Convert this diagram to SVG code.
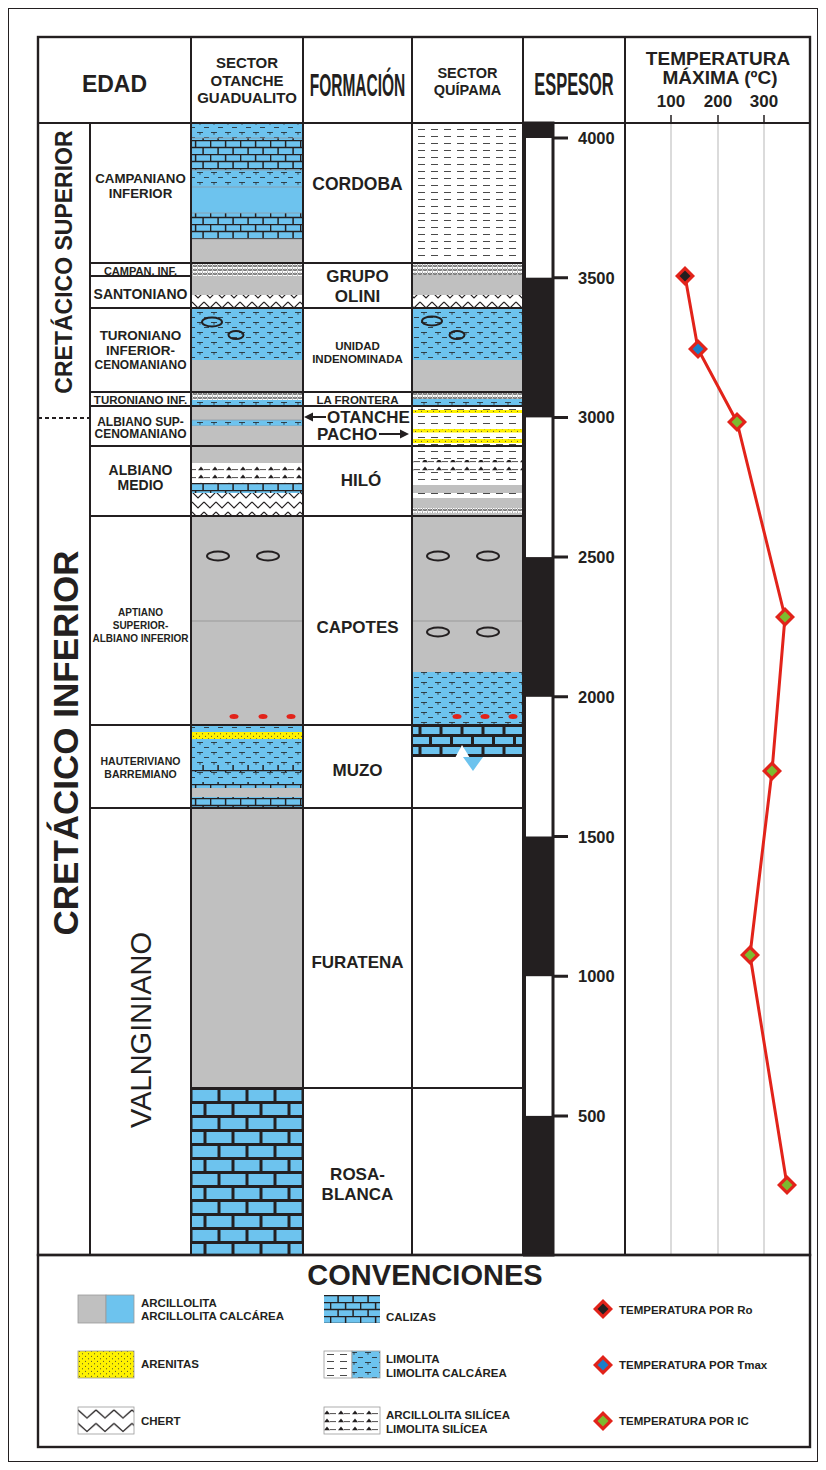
<svg xmlns="http://www.w3.org/2000/svg" width="826" height="1470" viewBox="0 0 826 1470">
<style>
  .t{font-family:"Liberation Sans",Arial,sans-serif;font-weight:bold;fill:#231f20;text-anchor:middle}
  .st{text-anchor:start}
  .thin{font-weight:normal}
  .frame{fill:none;stroke:#231f20;stroke-width:2.4}
  .row{stroke:#231f20;stroke-width:2;fill:none}
  .grid{stroke:#c4c4c4;stroke-width:1.2}
  .tick{stroke:#231f20;stroke-width:3}
  .gris{fill:#c0c0c0}
  .azul{fill:#6dc3ee}
  .cal{fill:url(#lime)}
  .calG{fill:url(#limeBig)}
  .calM{fill:url(#limeMed)}
  .cl{fill:url(#limCal)}
  .lim{fill:url(#limo)}
  .che{fill:url(#chert)}
  .cheL{fill:url(#chertLarge)}
  .fch{fill:url(#fineChert)}
  .sil{fill:url(#silicea)}
  .are{fill:url(#arena)}
  .nod{fill:none;stroke:#231f20;stroke-width:2}
  .dot{fill:#e2231a}
  .sub{stroke:#8f9aa3;stroke-width:0.8}
  .sw{stroke:#9a9a9a;stroke-width:0.8}
  .curve{fill:none;stroke:#e2231a;stroke-width:3;stroke-linejoin:round}
</style>
<defs>
  <!-- caliza: small bricks -->
  <pattern id="lime" patternUnits="userSpaceOnUse" width="30" height="14">
    <rect width="30" height="14" fill="#6dc3ee"/>
    <path d="M0 0.6H30M0 7.6H30M0.6 0V7M15.6 0V7M8.1 7V14M23.1 7V14" stroke="#231f20" stroke-width="1.5"/>
  </pattern>
  <!-- caliza: medium bricks -->
  <pattern id="limeMed" patternUnits="userSpaceOnUse" width="42" height="20" y="725">
    <rect width="42" height="20" fill="#231f20"/>
    <rect x="1.5" y="2" width="18" height="7" fill="#6dc3ee"/>
    <rect x="22.5" y="2" width="18" height="7" fill="#6dc3ee"/>
    <rect x="-9" y="12" width="18" height="7" fill="#6dc3ee"/>
    <rect x="12" y="12" width="18" height="7" fill="#6dc3ee"/>
    <rect x="33" y="12" width="18" height="7" fill="#6dc3ee"/>
  </pattern>
  <!-- caliza: large bricks -->
  <pattern id="limeBig" patternUnits="userSpaceOnUse" width="28" height="28" x="191" y="1088">
    <rect width="28" height="28" fill="#231f20"/>
    <rect x="1.5" y="2" width="25" height="11" fill="#6dc3ee"/>
    <rect x="-12.5" y="16" width="25" height="11" fill="#6dc3ee"/>
    <rect x="15.5" y="16" width="25" height="11" fill="#6dc3ee"/>
  </pattern>
  <!-- limolita calcárea -->
  <pattern id="limCal" patternUnits="userSpaceOnUse" width="14" height="10">
    <rect width="14" height="10" fill="#6dc3ee"/>
    <path d="M1 2.5H7M4 2.5V4.8M8 7.5H13" stroke="#231f20" stroke-width="0.8" fill="none"/>
  </pattern>
  <!-- limolita -->
  <pattern id="limo" patternUnits="userSpaceOnUse" width="13" height="7">
    <rect width="13" height="7" fill="#ffffff"/>
    <path d="M2 3.5H9" stroke="#4a4a4a" stroke-width="1"/>
  </pattern>
  <!-- chert -->
  <pattern id="chert" patternUnits="userSpaceOnUse" width="12" height="10">
    <rect width="12" height="10" fill="#ffffff"/>
    <path d="M0 2L6 8L12 2" stroke="#231f20" stroke-width="1.1" fill="none"/>
  </pattern>
  <!-- chert, legend swatch -->
  <pattern id="chertLarge" patternUnits="userSpaceOnUse" width="18" height="13.5" x="78" y="1407">
    <rect width="18" height="13.5" fill="#ffffff"/>
    <path d="M0 3L9 11L18 3" stroke="#231f20" stroke-width="1.3" fill="none"/>
  </pattern>
  <!-- chert, fine banding -->
  <pattern id="fineChert" patternUnits="userSpaceOnUse" width="5" height="4">
    <rect width="5" height="4" fill="#ffffff"/>
    <path d="M0 0.8L2.5 3L5 0.8M0 3L2.5 0.8L5 3" stroke="#333" stroke-width="0.7" fill="none"/>
  </pattern>
  <!-- arcillolita / limolita silícea -->
  <pattern id="silicea" patternUnits="userSpaceOnUse" width="14" height="8">
    <rect width="14" height="8" fill="#ffffff"/>
    <path d="M2 6.2L5 2.4L8 6.2Z" fill="#231f20"/>
    <path d="M8 5.6H14" stroke="#231f20" stroke-width="0.8"/>
  </pattern>
  <!-- arenitas -->
  <pattern id="arena" patternUnits="userSpaceOnUse" width="6" height="5">
    <rect width="6" height="5" fill="#fff200"/>
    <circle cx="1.5" cy="1.3" r="0.55" fill="#333"/>
    <circle cx="4.5" cy="3.8" r="0.55" fill="#333"/>
  </pattern>
  <!-- temperature markers -->
  <g id="diaRo"><path d="M-10 0L0-10L10 0L0 10Z" fill="#e2231a"/><path d="M-5.5 0L0-5.5L5.5 0L0 5.5Z" fill="#231f20"/></g>
  <g id="diaTmax"><path d="M-10 0L0-10L10 0L0 10Z" fill="#e2231a"/><path d="M-5.5 0L0-5.5L5.5 0L0 5.5Z" fill="#1a7fc9"/></g>
  <g id="diaIC"><path d="M-10 0L0-10L10 0L0 10Z" fill="#e2231a"/><path d="M-5.5 0L0-5.5L5.5 0L0 5.5Z" fill="#7dbb2f"/></g>
</defs>

<rect width="826" height="1470" fill="#ffffff"/>
<rect x="8.5" y="8.5" width="809" height="1453" fill="none" stroke="#231f20" stroke-width="1"/>

<!-- ===== Otanche - Guadualito column ===== -->
<g id="sector-otanche">
  <rect x="191" y="123" width="112" height="15" class="cl"/>
  <rect x="191" y="138" width="112" height="32" class="cal"/>
  <rect x="191" y="170" width="112" height="17" class="cl"/>
  <rect x="191" y="187" width="112" height="26" class="azul"/>
  <rect x="191" y="213" width="112" height="26" class="cal"/>
  <rect x="191" y="239" width="112" height="24" class="gris"/>
  <path d="M191 138H303M191 170H303M191 187H303M191 213H303M191 239H303" class="sub"/>
  <rect x="191" y="263" width="112" height="13" class="fch"/>
  <rect x="191" y="276" width="112" height="19" class="gris"/>
  <rect x="191" y="295" width="112" height="13" class="che"/>
  <rect x="191" y="308" width="112" height="52" class="cl"/>
  <ellipse cx="212" cy="322" rx="10" ry="4.5" class="nod"/>
  <ellipse cx="236" cy="335" rx="7.5" ry="4" class="nod"/>
  <rect x="191" y="360" width="112" height="32" class="gris"/>
  <rect x="191" y="392" width="112" height="8" class="fch"/>
  <rect x="191" y="400" width="112" height="6" class="cl"/>
  <rect x="191" y="406" width="112" height="14" class="gris"/>
  <rect x="191" y="420" width="112" height="6" class="cl"/>
  <path d="M191 420H303M191 426H303" class="sub"/>
  <rect x="191" y="426" width="112" height="20" class="gris"/>
  <rect x="191" y="446" width="112" height="17" class="gris"/>
  <rect x="191" y="463" width="112" height="20" class="sil"/>
  <rect x="191" y="483" width="112" height="10" class="cal"/>
  <rect x="191" y="493" width="112" height="23" class="che"/>
  <rect x="191" y="516" width="112" height="209" class="gris"/>
  <path d="M191 621H303" stroke="#9a9a9a" stroke-width="1"/>
  <ellipse cx="218" cy="556" rx="11" ry="4.5" class="nod"/>
  <ellipse cx="268" cy="556" rx="11" ry="4.5" class="nod"/>
  <ellipse cx="234" cy="716.5" rx="4.5" ry="2.5" class="dot"/>
  <ellipse cx="263" cy="716.5" rx="4.5" ry="2.5" class="dot"/>
  <ellipse cx="291" cy="716.5" rx="4.5" ry="2.5" class="dot"/>
  <rect x="191" y="725" width="112" height="7" class="cl"/>
  <rect x="191" y="732" width="112" height="7" class="are"/>
  <rect x="191" y="739" width="112" height="26" class="cl"/>
  <rect x="191" y="765" width="112" height="7" class="cal"/>
  <rect x="191" y="772" width="112" height="10" class="cl"/>
  <rect x="191" y="782" width="112" height="6" class="cal"/>
  <rect x="191" y="788" width="112" height="9" class="gris"/>
  <rect x="191" y="797" width="112" height="11" class="cal"/>
  <rect x="191" y="808" width="112" height="280" class="gris"/>
  <rect x="191" y="1088" width="112" height="167" class="calG"/>
</g>

<!-- ===== Quípama column ===== -->
<g id="sector-quipama">
  <rect x="412" y="123" width="111" height="140" class="lim"/>
  <rect x="412" y="263" width="111" height="12" class="fch"/>
  <rect x="412" y="275" width="111" height="20" class="gris"/>
  <rect x="412" y="295" width="111" height="13" class="che"/>
  <rect x="412" y="308" width="111" height="52" class="cl"/>
  <ellipse cx="432" cy="321" rx="10" ry="4.5" class="nod"/>
  <ellipse cx="457" cy="335" rx="7.5" ry="4" class="nod"/>
  <rect x="412" y="360" width="111" height="32" class="gris"/>
  <rect x="412" y="392" width="111" height="7" class="fch"/>
  <rect x="412" y="399" width="111" height="7" class="cl"/>
  <rect x="412" y="406" width="111" height="40" class="lim"/>
  <rect x="412" y="410" width="111" height="3" class="are"/>
  <rect x="412" y="429" width="111" height="3.5" class="are"/>
  <rect x="412" y="439" width="111" height="4" class="are"/>
  <rect x="412" y="446" width="111" height="14" class="lim"/>
  <rect x="412" y="460" width="111" height="12" class="sil"/>
  <rect x="412" y="472" width="111" height="13" class="lim"/>
  <rect x="412" y="485" width="111" height="8" class="gris"/>
  <rect x="412" y="493" width="111" height="5" class="lim"/>
  <rect x="412" y="498" width="111" height="10" class="gris"/>
  <rect x="412" y="508" width="111" height="5" class="fch"/>
  <rect x="412" y="513" width="111" height="3" class="gris"/>
  <rect x="412" y="516" width="111" height="156" class="gris"/>
  <path d="M412 621H523" stroke="#9a9a9a" stroke-width="1"/>
  <ellipse cx="438" cy="556" rx="11" ry="4.5" class="nod"/>
  <ellipse cx="488" cy="556" rx="11" ry="4.5" class="nod"/>
  <ellipse cx="438" cy="632" rx="11" ry="4.5" class="nod"/>
  <ellipse cx="488" cy="632" rx="11" ry="4.5" class="nod"/>
  <rect x="412" y="672" width="111" height="53" class="cl"/>
  <ellipse cx="457" cy="716.5" rx="4.5" ry="2.5" class="dot"/>
  <ellipse cx="485" cy="716.5" rx="4.5" ry="2.5" class="dot"/>
  <ellipse cx="513" cy="716.5" rx="4.5" ry="2.5" class="dot"/>
  <rect x="412" y="725" width="111" height="32" class="calM"/>
  <path d="M455 758L462 745L470 758Z" fill="#ffffff"/>
  <path d="M463 757H483L473 771Z" fill="#6dc3ee"/>
</g>

<!-- ===== Espesor scale ===== -->
<g id="espesor">
  <rect x="524.5" y="123" width="28.5" height="1132" fill="#ffffff" stroke="#231f20" stroke-width="3"/>
  <rect x="523" y="123" width="30" height="15" fill="#231f20"/>
  <rect x="523" y="277.7" width="30" height="139.7" fill="#231f20"/>
  <rect x="523" y="557.1" width="30" height="139.7" fill="#231f20"/>
  <rect x="523" y="836.5" width="30" height="139.7" fill="#231f20"/>
  <rect x="523" y="1115.9" width="30" height="139.1" fill="#231f20"/>
  <path d="M553 138H568M553 277.7H568M553 417.4H568M553 557.1H568M553 696.8H568M553 836.5H568M553 976.2H568M553 1115.9H568" class="tick"/>
  <g class="t st" style="font-size:16.5px">
    <text x="578" y="144">4000</text>
    <text x="578" y="283.7">3500</text>
    <text x="578" y="423.4">3000</text>
    <text x="578" y="563.1">2500</text>
    <text x="578" y="702.8">2000</text>
    <text x="578" y="842.5">1500</text>
    <text x="578" y="982.2">1000</text>
    <text x="578" y="1121.9">500</text>
  </g>
</g>

<!-- ===== Temperature grid ===== -->
<g id="temperatura">
  <path d="M671 123V1255M718 123V1255M764 123V1255" class="grid"/>
  <path d="M671 115V123M718 115V123M764 115V123" stroke="#231f20" stroke-width="1.5"/>
</g>

<!-- ===== Table frame and row lines ===== -->
<g id="tabla">
  <rect x="38" y="37" width="772" height="1218" class="frame"/>
  <path d="M38 123H810" class="row"/>
  <path d="M191 37V1255M303 37V1255M412 37V1255M523 37V1255M625 37V1255M90 123V1255" class="row"/>
  <path d="M90 263H523M90 276H191M90 308H523M90 392H523M90 406H523M90 446H523M90 516H523M90 725H523M90 808H523M191 1088H523" class="row"/>
  <path d="M38 418H90" stroke="#231f20" stroke-width="2" stroke-dasharray="4 3"/>
</g>

<!-- ===== Header ===== -->
<g id="encabezado" class="t">
  <text x="114.5" y="92" style="font-size:23px">EDAD</text>
  <g style="font-size:15px">
    <text x="247" y="68">SECTOR</text>
    <text x="247" y="86">OTANCHE</text>
    <text x="247" y="103">GUADUALITO</text>
  </g>
  <text transform="translate(357.5 96) scale(0.5 1)" style="font-size:31px">FORMACIÓN</text>
  <g style="font-size:14.5px">
    <text x="467.5" y="78">SECTOR</text>
    <text x="467.5" y="95">QUÍPAMA</text>
  </g>
  <text transform="translate(574 95) scale(0.53 1)" style="font-size:31px">ESPESOR</text>
  <text x="718" y="65" style="font-size:19px">TEMPERATURA</text>
  <text x="720" y="84" style="font-size:19px">MÁXIMA (ºC)</text>
  <g style="font-size:17px">
    <text x="671" y="107">100</text>
    <text x="718" y="107">200</text>
    <text x="764" y="107">300</text>
  </g>
</g>

<!-- ===== Edad column ===== -->
<g id="edad" class="t">
  <text transform="translate(72 262) rotate(-90)" style="font-size:23px">CRETÁCICO SUPERIOR</text>
  <text transform="translate(78 743) rotate(-90)" style="font-size:35px">CRETÁCICO INFERIOR</text>
  <text transform="translate(151 1030) rotate(-90)" class="t thin" style="font-size:29px">VALNGINIANO</text>
  <g style="font-size:13.3px">
    <text x="140.5" y="183.3">CAMPANIANO</text>
    <text x="140.5" y="197.7">INFERIOR</text>
  </g>
  <text x="140.5" y="275" style="font-size:11px">CAMPAN. INF.</text>
  <text x="140.5" y="299" style="font-size:14px">SANTONIANO</text>
  <g style="font-size:13.5px">
    <text x="140.5" y="340">TURONIANO</text>
    <text x="140.5" y="355">INFERIOR-</text>
  </g>
  <text x="140.5" y="369" style="font-size:12px">CENOMANIANO</text>
  <text x="140.5" y="404" style="font-size:11.5px">TURONIANO INF.</text>
  <g style="font-size:12px">
    <text x="140.5" y="426">ALBIANO SUP-</text>
    <text x="140.5" y="437.5">CENOMANIANO</text>
  </g>
  <g style="font-size:14px">
    <text x="140.5" y="475">ALBIANO</text>
    <text x="140.5" y="490">MEDIO</text>
  </g>
  <g style="font-size:10px">
    <text x="140.5" y="616">APTIANO</text>
    <text x="140.5" y="629">SUPERIOR-</text>
    <text x="140.5" y="642">ALBIANO INFERIOR</text>
  </g>
  <g style="font-size:10.5px">
    <text x="140.5" y="765">HAUTERIVIANO</text>
    <text x="140.5" y="778">BARREMIANO</text>
  </g>
</g>

<!-- ===== Formación column ===== -->
<g id="formacion" class="t">
  <text x="357.5" y="190" style="font-size:17.5px">CORDOBA</text>
  <g style="font-size:17px">
    <text x="357.5" y="282">GRUPO</text>
    <text x="357.5" y="302">OLINI</text>
  </g>
  <g style="font-size:11.5px">
    <text x="357.5" y="350">UNIDAD</text>
    <text x="357.5" y="363">INDENOMINADA</text>
    <text x="357.5" y="404">LA FRONTERA</text>
  </g>
  <g style="font-size:17px">
    <text x="327" y="423" class="t st">OTANCHE</text>
    <text x="317" y="440" class="t st">PACHO</text>
    <text x="361" y="486">HILÓ</text>
    <text x="357.5" y="633">CAPOTES</text>
    <text x="357.5" y="776">MUZO</text>
    <text x="357.5" y="968">FURATENA</text>
    <text x="357.5" y="1180">ROSA-</text>
    <text x="357.5" y="1200">BLANCA</text>
  </g>
</g>

<!-- ===== Connectors: pointer arrows and temperature profile ===== -->
<g id="conectores">
  <path d="M326 417H311" stroke="#231f20" stroke-width="2"/>
  <path d="M304 417L313 412.5L313 421.5Z" fill="#231f20"/>
  <path d="M379 434H401" stroke="#231f20" stroke-width="2"/>
  <path d="M409 434L400 429.5L400 438.5Z" fill="#231f20"/>
  <polyline class="curve" points="685,276 698,349 737,422 785,617 772,771 750,955 787,1185"/>
</g>

<!-- ===== Temperature data points ===== -->
<g id="puntos">
  <use href="#diaRo" x="685" y="276"/>
  <use href="#diaTmax" x="698" y="349"/>
  <use href="#diaIC" x="737" y="422"/>
  <use href="#diaIC" x="785" y="617"/>
  <use href="#diaIC" x="772" y="771"/>
  <use href="#diaIC" x="750" y="955"/>
  <use href="#diaIC" x="787" y="1185"/>
</g>

<!-- ===== Legend ===== -->
<g id="convenciones">
  <rect x="38" y="1255" width="772" height="192" class="frame"/>
  <text x="425" y="1285" class="t" style="font-size:29px">CONVENCIONES</text>
  <rect x="78" y="1295" width="28" height="28" class="gris sw"/>
  <rect x="106" y="1295" width="28" height="28" class="azul sw"/>
  <rect x="78" y="1351" width="56" height="27" class="are sw"/>
  <rect x="78" y="1407" width="56" height="27" class="cheL sw"/>
  <rect x="324" y="1295" width="56" height="28" class="cal"/>
  <rect x="324" y="1351" width="28" height="27" class="lim sw"/>
  <rect x="352" y="1351" width="28" height="27" class="cl sw"/>
  <rect x="324" y="1407" width="56" height="27" class="sil sw"/>
  <use href="#diaRo" x="603" y="1309"/>
  <use href="#diaTmax" x="603" y="1365"/>
  <use href="#diaIC" x="603" y="1421"/>
  <g class="t st" style="font-size:11.5px">
    <text x="141" y="1307">ARCILLOLITA</text>
    <text x="141" y="1320">ARCILLOLITA CALCÁREA</text>
    <text x="141" y="1368">ARENITAS</text>
    <text x="141" y="1425">CHERT</text>
    <text x="386" y="1321">CALIZAS</text>
    <text x="386" y="1363">LIMOLITA</text>
    <text x="386" y="1377">LIMOLITA CALCÁREA</text>
    <text x="386" y="1419">ARCILLOLITA SILÍCEA</text>
    <text x="386" y="1433">LIMOLITA SILÍCEA</text>
    <text x="619" y="1314">TEMPERATURA POR Ro</text>
    <text x="619" y="1369">TEMPERATURA POR Tmax</text>
    <text x="619" y="1425">TEMPERATURA POR IC</text>
  </g>
</g>
</svg>
